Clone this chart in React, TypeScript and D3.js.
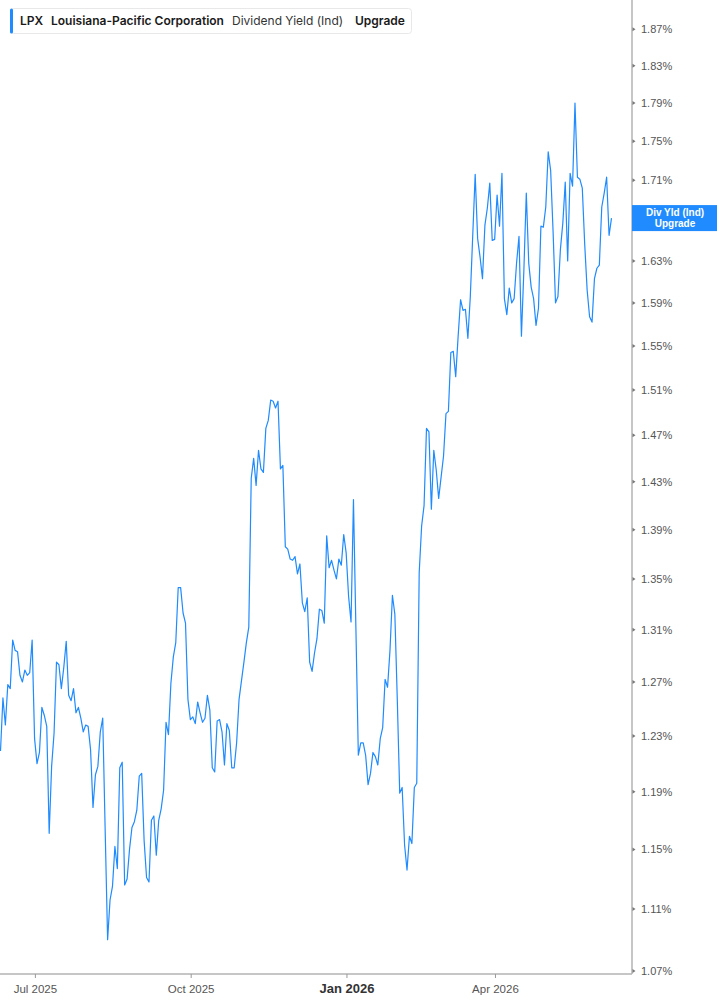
import { useEffect, useRef } from "react"
import * as d3 from "d3"

// daily dividend yield (%), one value per trading day
const yieldValues: number[] = [
  1.219, 1.258, 1.238, 1.268, 1.265, 1.302, 1.294, 1.293, 1.275, 1.27,
  1.279, 1.275, 1.277, 1.302, 1.228, 1.21, 1.218, 1.251, 1.245, 1.237,
  1.161, 1.208, 1.232, 1.285, 1.283, 1.265, 1.281, 1.301, 1.26, 1.256,
  1.265, 1.247, 1.251, 1.243, 1.233, 1.238, 1.237, 1.22, 1.179, 1.202,
  1.208, 1.233, 1.243, 1.163, 1.09, 1.116, 1.125, 1.152, 1.137, 1.207,
  1.211, 1.126, 1.13, 1.15, 1.165, 1.169, 1.177, 1.201, 1.203, 1.156,
  1.131, 1.128, 1.17, 1.173, 1.146, 1.17, 1.178, 1.191, 1.24, 1.231,
  1.269, 1.289, 1.3, 1.343, 1.343, 1.323, 1.315, 1.257, 1.242, 1.244,
  1.239, 1.255, 1.247, 1.24, 1.243, 1.26, 1.249, 1.207, 1.204, 1.241,
  1.242, 1.233, 1.209, 1.239, 1.234, 1.207, 1.207, 1.225, 1.257, 1.271,
  1.285, 1.3, 1.312, 1.433, 1.45, 1.427, 1.457, 1.441, 1.438, 1.476,
  1.483, 1.501, 1.5, 1.494, 1.5, 1.441, 1.444, 1.376, 1.374, 1.366,
  1.365, 1.368, 1.354, 1.362, 1.331, 1.324, 1.335, 1.285, 1.278, 1.292,
  1.303, 1.326, 1.325, 1.315, 1.385, 1.359, 1.365, 1.357, 1.35, 1.366,
  1.361, 1.386, 1.371, 1.336, 1.316, 1.415, 1.311, 1.216, 1.225, 1.225,
  1.216, 1.195, 1.203, 1.218, 1.215, 1.209, 1.228, 1.236, 1.272, 1.266,
  1.294, 1.337, 1.322, 1.257, 1.189, 1.193, 1.153, 1.136, 1.159, 1.154,
  1.193, 1.196, 1.355, 1.393, 1.41, 1.476, 1.473, 1.407, 1.457, 1.44,
  1.416, 1.434, 1.452, 1.489, 1.491, 1.544, 1.545, 1.522, 1.559, 1.593,
  1.583, 1.584, 1.557, 1.596, 1.655, 1.716, 1.652, 1.634, 1.613, 1.665,
  1.682, 1.707, 1.65, 1.651, 1.695, 1.664, 1.717, 1.594, 1.579, 1.604,
  1.59, 1.594, 1.628, 1.654, 1.559, 1.621, 1.697, 1.628, 1.605, 1.594,
  1.569, 1.585, 1.664, 1.663, 1.683, 1.739, 1.72, 1.659, 1.59, 1.596,
  1.641, 1.667, 1.708, 1.63, 1.717, 1.704, 1.79, 1.713, 1.711, 1.702,
  1.646, 1.602, 1.577, 1.572, 1.613, 1.623, 1.626, 1.683, 1.697, 1.713,
  1.655, 1.672,
]

// first trading day of each labelled month (index into yieldValues)
const monthTickIndex: number[] = [14, 78, 142, 203]
const monthTickLabels: string[] = ["Jul 2025", "Oct 2025", "Jan 2026", "Apr 2026"]
const yearStartLabel = "Jan 2026"

const yTickValues: number[] = [
  1.07, 1.11, 1.15, 1.19, 1.23, 1.27, 1.31, 1.35, 1.39, 1.43, 1.47, 1.51,
  1.55, 1.59, 1.63, 1.67, 1.71, 1.75, 1.79, 1.83, 1.87,
]

const flagLines: string[] = ["Div Yld (Ind)", "Upgrade"]

const legendParts = [
  { text: "LPX", weight: 600, x: 20 },
  { text: "Louisiana-Pacific Corporation", weight: 600, x: 51 },
  { text: "Dividend Yield (Ind)", weight: 400, x: 232 },
  { text: "Upgrade", weight: 600, x: 355 },
]

const BLUE = "#1f8bff"
const AXIS = "#b3b3b3"

export default function App() {
  const svgRef = useRef<SVGSVGElement | null>(null)

  useEffect(() => {
    if (!svgRef.current) return

    const width = 717
    const height = 1005
    const plotRight = 632
    const plotBottom = 974

    const svg = d3.select(svgRef.current).attr("width", width).attr("height", height)
    svg.selectAll("*").remove()

    const x = d3
      .scaleLinear()
      .domain([0, yieldValues.length - 1])
      .range([0.5, 611.5])

    const y = d3.scaleLog().domain([1.07, 1.87]).range([971, 29.3])

    svg
      .append("defs")
      .append("clipPath")
      .attr("id", "plot-clip")
      .append("rect")
      .attr("x", 0)
      .attr("y", 0)
      .attr("width", plotRight)
      .attr("height", plotBottom)

    // yield line
    const line = d3
      .line<number>()
      .x((_, i) => x(i))
      .y(d => y(d))

    svg
      .append("path")
      .datum(yieldValues)
      .attr("clip-path", "url(#plot-clip)")
      .attr("fill", "none")
      .attr("stroke", BLUE)
      .attr("stroke-width", 1.2)
      .attr("stroke-linejoin", "round")
      .attr("d", line)

    // axes lines
    svg
      .append("line")
      .attr("x1", plotRight)
      .attr("x2", plotRight)
      .attr("y1", 0)
      .attr("y2", plotBottom)
      .attr("stroke", AXIS)
      .attr("stroke-width", 1.5)

    svg
      .append("line")
      .attr("x1", 0)
      .attr("x2", plotRight)
      .attr("y1", plotBottom)
      .attr("y2", plotBottom)
      .attr("stroke", AXIS)
      .attr("stroke-width", 1.5)

    const last = yieldValues[yieldValues.length - 1]
    const flagY = y(last)
    const flagTop = flagY - 13
    const flagH = 26

    // Y ticks + labels (the label under the last-value flag is hidden)
    const yTicks = svg.append("g")
    yTickValues.forEach(v => {
      const ty = y(v)
      yTicks
        .append("path")
        .attr("d", `M${plotRight + 0.5},${ty - 2}L${plotRight + 3.5},${ty}L${plotRight + 0.5},${ty + 2}Z`)
        .attr("fill", "#777")
      if (ty > flagTop - 4 && ty < flagTop + flagH + 4) return
      yTicks
        .append("text")
        .attr("x", 641)
        .attr("y", ty + 4)
        .attr("font-family", "'Liberation Sans', Arial, sans-serif")
        .attr("font-size", 11)
        .attr("fill", "#555")
        .text(`${v.toFixed(2)}%`)
    })

    // X ticks + labels
    const xTicks = svg.append("g")
    monthTickIndex.forEach((idx, k) => {
      const tx = x(idx) + 0.8
      const label = monthTickLabels[k]
      const isYear = label === yearStartLabel
      xTicks
        .append("line")
        .attr("x1", tx)
        .attr("x2", tx)
        .attr("y1", plotBottom)
        .attr("y2", plotBottom + 4)
        .attr("stroke", "#999")
      xTicks
        .append("text")
        .attr("x", tx)
        .attr("y", 993)
        .attr("text-anchor", "middle")
        .attr("font-family", "'Liberation Sans', Arial, sans-serif")
        .attr("font-size", isYear ? 13 : 11.5)
        .attr("font-weight", isYear ? 700 : 400)
        .attr("fill", isYear ? "#333" : "#555")
        .text(label)
    })

    // last value flag
    const flag = svg.append("g")
    flag
      .append("rect")
      .attr("x", plotRight)
      .attr("y", flagTop)
      .attr("width", width - plotRight)
      .attr("height", flagH)
      .attr("fill", BLUE)
    flagLines.forEach((t, k) => {
      flag
        .append("text")
        .attr("x", 675)
        .attr("y", flagTop + 10.5 + k * 11.5)
        .attr("text-anchor", "middle")
        .attr("font-family", "'Liberation Sans', Arial, sans-serif")
        .attr("font-size", 10)
        .attr("font-weight", 700)
        .attr("fill", "#fff")
        .text(t)
    })

    // legend
    const legend = svg.append("g")
    legend
      .append("rect")
      .attr("x", 10.5)
      .attr("y", 8.5)
      .attr("width", 401)
      .attr("height", 25)
      .attr("rx", 3)
      .attr("fill", "#fff")
      .attr("stroke", "#e8e8e8")
    legend
      .append("rect")
      .attr("x", 10)
      .attr("y", 8.5)
      .attr("width", 3)
      .attr("height", 25)
      .attr("rx", 1.5)
      .attr("fill", BLUE)
    legendParts.forEach(p => {
      legend
        .append("text")
        .attr("x", p.x)
        .attr("y", 25)
        .attr("font-family", "Inter, 'Noto Sans', sans-serif")
        .attr("font-size", 12)
        .attr("font-weight", p.weight)
        .attr("fill", p.weight > 400 ? "#1a1a1a" : "#333")
        .text(p.text)
    })
  }, [])

  return (
    <div style={{ position: "absolute", left: 0, top: 0, background: "#fff" }}>
      <svg ref={svgRef} style={{ display: "block" }} />
    </div>
  )
}
